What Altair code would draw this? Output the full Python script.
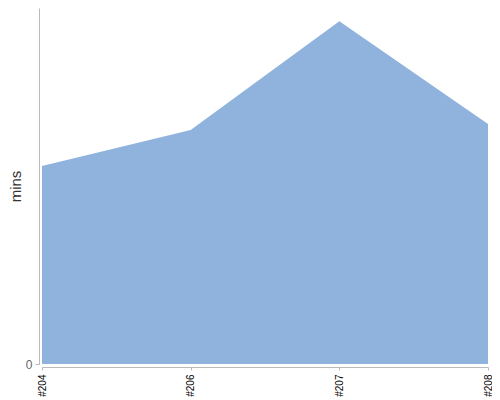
import altair as alt
import pandas as pd

runs = ["#204", "#206", "#207", "#208"]
mins = [55.6, 65.7, 96.3, 67.4]

df = pd.DataFrame({"run": runs, "mins": mins})

x_axis = alt.Axis(
    title=None, labelAngle=-90, labelFont="Liberation Sans", labelFontSize=10,
    labelColor="#000", domainColor="#bbb", tickColor="#bbb", tickSize=3,
    offset=3, labelPadding=4, grid=False,
)
y_axis = alt.Axis(
    title="mins", values=[0], labelFont="Liberation Sans", labelFontSize=12,
    labelColor="#666", domainColor="#bbb", tickColor="#bbb", tickSize=4,
    offset=3, labelPadding=3, grid=False, titleFont="Liberation Sans",
    titleFontSize=15, titleColor="#333", titleFontWeight="normal", titlePadding=2,
)

chart = alt.Chart(df).mark_area(color="#8fb3dc", opacity=1, interpolate="linear").encode(
    x=alt.X("run:O", sort=runs, scale=alt.Scale(type="point", padding=0), axis=x_axis),
    y=alt.Y("mins:Q", scale=alt.Scale(domain=[0, 100], nice=False), axis=y_axis),
).properties(
    width=446, height=356, autosize="none",
    padding={"left": 34, "top": 0, "right": 4, "bottom": 36},
).configure_view(stroke=None)

chart.save("out.html", embed_options={"renderer": "svg", "actions": False})
